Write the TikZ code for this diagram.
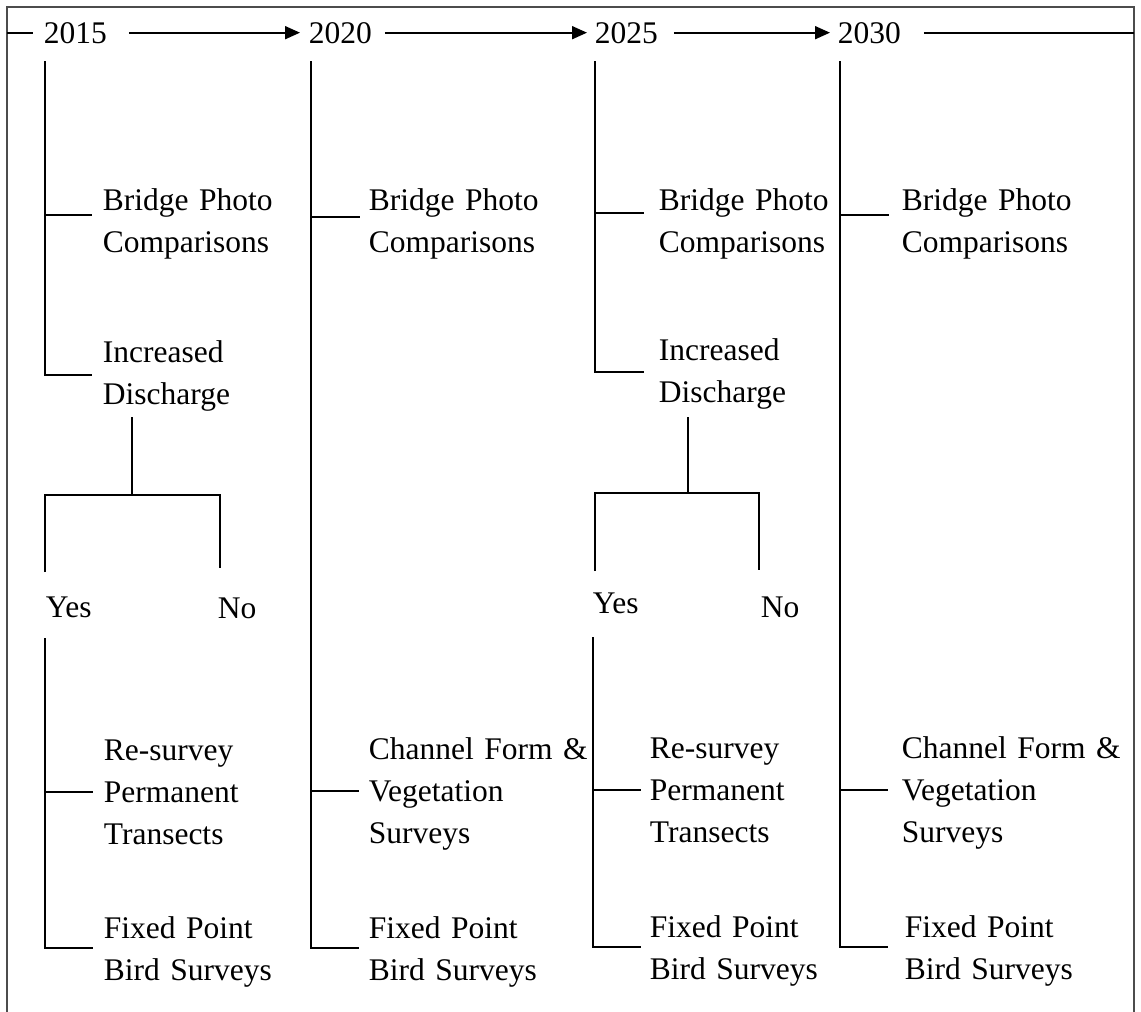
\documentclass[tikz,border=0pt]{standalone}
\usepackage{fontspec}
\setmainfont{Liberation Serif}
\usetikzlibrary{arrows.meta}
\begin{document}
\begin{tikzpicture}[x=1pt,y=-1pt,line width=1.8pt,
  txt/.style={inner sep=0pt,font=\fontsize{31.5}{42}\selectfont},
  yr/.style={txt,anchor=base west},
  lbl/.style={txt,anchor=base west,text width=230pt,align=left},
  tip/.style={-{Triangle[length=15pt,width=13pt]}},
  frame/.style={line width=2.4pt,black!70}]
\useasboundingbox (0,0) rectangle (1141,1012);
\draw[frame] (7,1012) |- (1134,7) -- (1134,1012);
% time line
\node[yr] (y15) at (43,43) {2015};\node[yr] (y20) at (308,43) {2020};
\node[yr] (y25) at (594,43) {2025};\node[yr] (y30) at (837,43) {2030};
\coordinate (t0) at (7,33);\coordinate (t5) at (1134,33);
\draw[shorten >=10pt] (t0) -- (t0 -| y15.west);
\draw[tip,shorten <=21pt,shorten >=8pt] (y15.east) -- (y20.west);
\draw[tip,shorten <=12pt,shorten >=7pt] (y20.east) -- (y25.west);
\draw[tip,shorten <=15pt,shorten >=7pt] (y25.east) -- (y30.west);
\draw[shorten <=22pt] (y30.east) -- (y30.east -| t5);
% 2015
\coordinate (tA) at (45,61);\coordinate (eA1) at (92,215);\coordinate (eA2) at (92,375);
\node[lbl] (bpA) at (102,210) {Bridge Photo\\Comparisons};
\node[lbl] (idA) at (102,362) {Increased\\Discharge};
\draw (tA) |- (eA1);\draw (tA) |- (eA2);
\coordinate (sA) at (132,417);\coordinate (fA) at (132,495);
\coordinate (kA1) at (45,572);\coordinate (kA2) at (220,568);
\draw (sA) -- (fA);\draw (kA1) |- (fA) -| (kA2);
\node[yr] (yesA) at (45,617) {Yes};\node[yr] (noA) at (217,618) {No};
\coordinate (lA) at (45,638);\coordinate (eA3) at (93,792);\coordinate (eA4) at (93,948);
\node[lbl] (rsA) at (103,760) {Re-survey\\Permanent\\Transects};
\node[lbl] (fpA) at (103,938) {Fixed Point\\Bird Surveys};
\draw (lA) |- (eA3);\draw (lA) |- (eA4);
% 2020
\coordinate (tB) at (311,61);\coordinate (eB1) at (360,217);
\coordinate (eB2) at (359,791);\coordinate (eB3) at (359,948);
\node[lbl] (bpB) at (368,210) {Bridge Photo\\Comparisons};
\node[lbl] (cfB) at (368,759) {Channel Form \&\\Vegetation\\Surveys};
\node[lbl] (fpB) at (368,938) {Fixed Point\\Bird Surveys};
\draw (tB) |- (eB1);\draw (tB) |- (eB2);\draw (tB) |- (eB3);
% 2025
\coordinate (tC) at (595,61);\coordinate (eC1) at (644,213);\coordinate (eC2) at (644,372);
\node[lbl] (bpC) at (658,210) {Bridge Photo\\Comparisons};
\node[lbl] (idC) at (658,360) {Increased\\Discharge};
\draw (tC) |- (eC1);\draw (tC) |- (eC2);
\coordinate (sC) at (688,417);\coordinate (fC) at (688,493);
\coordinate (kC1) at (595,571);\coordinate (kC2) at (759,570);
\draw (sC) -- (fC);\draw (kC1) |- (fC) -| (kC2);
\node[yr] (yesC) at (592,613) {Yes};\node[yr] (noC) at (760,617) {No};
\coordinate (lC) at (593,637);\coordinate (eC3) at (641,790);\coordinate (eC4) at (641,947);
\node[lbl] (rsC) at (649,758) {Re-survey\\Permanent\\Transects};
\node[lbl] (fpC) at (649,937) {Fixed Point\\Bird Surveys};
\draw (lC) |- (eC3);\draw (lC) |- (eC4);
% 2030
\coordinate (tD) at (840,61);\coordinate (eD1) at (889,215);
\coordinate (eD2) at (888,790);\coordinate (eD3) at (888,947);
\node[lbl] (bpD) at (901,210) {Bridge Photo\\Comparisons};
\node[lbl] (cfD) at (901,758) {Channel Form \&\\Vegetation\\Surveys};
\node[lbl] (fpD) at (904,937) {Fixed Point\\Bird Surveys};
\draw (tD) |- (eD1);\draw (tD) |- (eD2);\draw (tD) |- (eD3);
\end{tikzpicture}
\end{document}
